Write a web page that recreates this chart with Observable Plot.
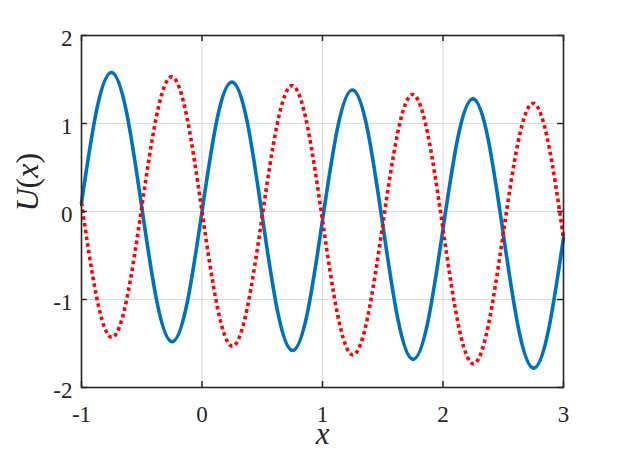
<!DOCTYPE html>
<html>
<head>
<meta charset="utf-8">
<script src="https://cdn.jsdelivr.net/npm/d3@7"></script>
<script src="https://cdn.jsdelivr.net/npm/@observablehq/plot@0.6"></script>
<style>
  html, body { margin: 0; padding: 0; background: #fff; }
</style>
</head>
<body>
<div id="chart"></div>
<script>
const xs = [-1, -0.875, -0.75, -0.625, -0.5, -0.375, -0.25, -0.125,
  0, 0.125, 0.25, 0.375, 0.5, 0.625, 0.75, 0.875,
  1, 1.125, 1.25, 1.375, 1.5, 1.625, 1.75, 1.875,
  2, 2.125, 2.25, 2.375, 2.5, 2.625, 2.75, 2.875, 3];
const blueU = [0.10, 1.15, 1.58, 1.12, 0.05, -1.02, -1.48, -1.05,
  0.00, 1.05, 1.47, 1.02, -0.05, -1.12, -1.58, -1.15,
  -0.10, 0.95, 1.38, 0.92, -0.15, -1.22, -1.68, -1.25,
  -0.20, 0.85, 1.28, 0.82, -0.25, -1.32, -1.78, -1.35, -0.30];
const redU = [0.10, -0.97, -1.43, -1.00, 0.05, 1.10, 1.53, 1.07,
  0.00, -1.07, -1.53, -1.10, -0.05, 1.00, 1.43, 0.97,
  -0.10, -1.17, -1.63, -1.20, -0.15, 0.90, 1.33, 0.87,
  -0.20, -1.27, -1.73, -1.30, -0.25, 0.80, 1.23, 0.77, -0.30];
const xTicks = [-1, 0, 1, 2, 3];
const yTicks = [-2, -1, 0, 1, 2];

const W = 622, H = 467, ML = 81, MR = 59, MT = 35, MB = 80;
const PW = W - ML - MR, PH = H - MT - MB;
const blue = xs.map((x, i) => ({x, u: blueU[i]}));
const red = xs.map((x, i) => ({x, u: redU[i]}));
const ink = "#262626";
const SERIF = "Liberation Serif";

const chart = Plot.plot({
  width: W, height: H,
  marginLeft: ML, marginRight: MR, marginTop: MT, marginBottom: MB,
  style: {background: "#fff", color: ink},
  x: {domain: [-1, 3], ticks: xTicks},
  y: {domain: [-2, 2], ticks: yTicks},
  marks: [
    Plot.gridX(xTicks, {stroke: "#dedede", strokeOpacity: 1, strokeWidth: 1.2}),
    Plot.gridY(yTicks, {stroke: "#dedede", strokeOpacity: 1, strokeWidth: 1.2}),
    Plot.line(blue, {x: "x", y: "u", stroke: "#0072BD", strokeWidth: 3.6, curve: "natural"}),
    Plot.line(red, {x: "x", y: "u", stroke: "#FF0000", strokeWidth: 3.6, curve: "natural", strokeDasharray: "3.6,3.2", strokeLinecap: "butt"}),
    Plot.tickX(xTicks, {x: d => d, insetTop: PH - 6, stroke: ink, strokeWidth: 1.5}),
    Plot.tickX(xTicks, {x: d => d, insetBottom: PH - 6, stroke: ink, strokeWidth: 1.5}),
    Plot.tickY(yTicks, {y: d => d, insetRight: PW - 6, stroke: ink, strokeWidth: 1.5}),
    Plot.tickY(yTicks, {y: d => d, insetLeft: PW - 6, stroke: ink, strokeWidth: 1.5}),
    Plot.frame({stroke: ink, strokeWidth: 1.6}),
    Plot.axisX(xTicks, {tickSize: 0, tickPadding: 18, fontSize: 23, fontFamily: SERIF, label: null, tickFormat: d => String(d), fill: ink}),
    Plot.axisY(yTicks, {tickSize: 0, tickPadding: 9, dy: 3, fontSize: 23, fontFamily: SERIF, label: null, tickFormat: d => String(d), fill: ink}),
    Plot.text(["U(x)"], {frameAnchor: "left", dx: -54, rotate: -90, fontSize: 32, fontFamily: SERIF, text: d => d, fill: ink}),
    Plot.text(["x"], {frameAnchor: "bottom", dy: 56, fontSize: 31, fontFamily: SERIF, fontStyle: "italic", text: d => d, fill: ink})
  ]
});
document.getElementById("chart").appendChild(chart);
const st = document.createElementNS("http://www.w3.org/2000/svg", "style");
st.textContent = "text, tspan { font-family: 'Liberation Serif', serif !important; }";
chart.insertBefore(st, chart.firstChild);
chart.querySelectorAll("text").forEach(t => {
  if (t.textContent === "U(x)") {
    t.innerHTML = '<tspan font-style="italic">U</tspan><tspan font-style="normal">(</tspan><tspan font-style="italic">x</tspan><tspan font-style="normal">)</tspan>';
  }
});
</script>
</body>
</html>
